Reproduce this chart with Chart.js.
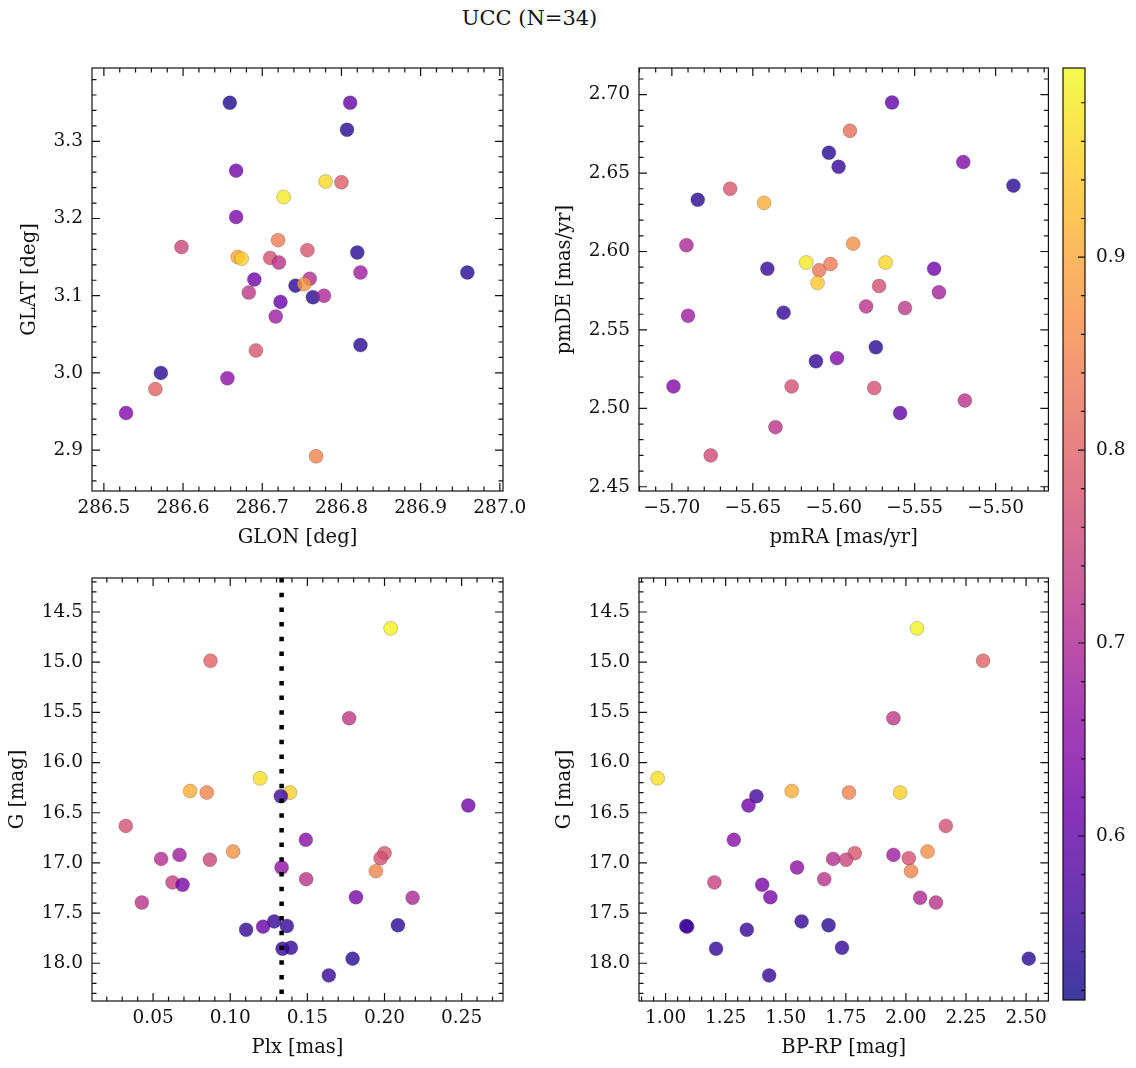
<!DOCTYPE html>
<html>
<head>
<meta charset="utf-8">
<title>UCC (N=34)</title>
<script src="https://cdn.jsdelivr.net/npm/chart.js@4.4.0/dist/chart.umd.min.js"></script>
<style>
  body { margin: 0; background: #fff; }
  #wrap { position: relative; width: 1136px; height: 1068px; font-family: "DejaVu Serif", serif; }
  canvas { position: absolute; }
  #title { position: absolute; left: 0; width: 1059px; top: 6px; text-align: center; font-size: 21px; color: #111; }
</style>
</head>
<body>
<div id="wrap">
  <div id="title">UCC (N=34)</div>
  <canvas id="p1"></canvas>
  <canvas id="p2"></canvas>
  <canvas id="p3"></canvas>
  <canvas id="p4"></canvas>
  <canvas id="cbar"></canvas>
</div>
<script>
// --- top left: galactic coordinates
const glon = [286.659, 286.667, 286.727, 286.667, 286.598, 286.720, 286.669, 286.674, 286.710, 286.721,
    286.690, 286.742, 286.683, 286.723, 286.717, 286.692, 286.572, 286.656, 286.565, 286.528,
    286.811, 286.807, 286.780, 286.800, 286.757, 286.820, 286.760, 286.753, 286.824, 286.959,
    286.764, 286.778, 286.824, 286.768];
const glat = [3.350, 3.262, 3.228, 3.202, 3.163, 3.172, 3.150, 3.148, 3.149, 3.143,
    3.121, 3.113, 3.104, 3.092, 3.073, 3.029, 3.000, 2.993, 2.979, 2.948,
    3.350, 3.315, 3.248, 3.247, 3.159, 3.156, 3.122, 3.115, 3.130, 3.130,
    3.098, 3.100, 3.036, 2.892];
const probPos = [0.53, 0.62, 0.98, 0.63, 0.75, 0.84, 0.90, 0.95, 0.77, 0.72,
    0.62, 0.54, 0.73, 0.61, 0.68, 0.78, 0.54, 0.66, 0.80, 0.64,
    0.60, 0.54, 0.96, 0.79, 0.78, 0.54, 0.71, 0.88, 0.68, 0.54,
    0.54, 0.70, 0.54, 0.85];

// --- top right: proper motions
const pmra = [-5.684, -5.664, -5.643, -5.691, -5.641, -5.617, -5.631, -5.690, -5.699, -5.626,
    -5.636, -5.676, -5.564, -5.590, -5.603, -5.597, -5.520, -5.489, -5.588, -5.609,
    -5.602, -5.568, -5.610, -5.538, -5.572, -5.535, -5.580, -5.556, -5.574, -5.611,
    -5.598, -5.575, -5.519, -5.559];
const pmde = [2.633, 2.640, 2.631, 2.604, 2.589, 2.593, 2.561, 2.559, 2.514, 2.514,
    2.488, 2.470, 2.695, 2.677, 2.663, 2.654, 2.657, 2.642, 2.605, 2.588,
    2.592, 2.593, 2.580, 2.589, 2.578, 2.574, 2.565, 2.564, 2.539, 2.530,
    2.532, 2.513, 2.505, 2.497];
const probPm = [0.54, 0.78, 0.91, 0.70, 0.55, 0.98, 0.55, 0.68, 0.64, 0.77,
    0.72, 0.76, 0.60, 0.82, 0.54, 0.55, 0.64, 0.54, 0.87, 0.83,
    0.84, 0.96, 0.94, 0.62, 0.77, 0.69, 0.72, 0.73, 0.54, 0.55,
    0.64, 0.77, 0.72, 0.60];

// --- bottom: parallax, magnitude, colour (same stars in both panels)
const plx = [0.2040, 0.0872, 0.1771, 0.1194, 0.0740, 0.0848, 0.1387, 0.1328, 0.2543, 0.0323,
    0.1490, 0.1019, 0.2000, 0.0671, 0.1975, 0.0552, 0.0868, 0.1333, 0.1944, 0.1492,
    0.0626, 0.0691, 0.1815, 0.2182, 0.0427, 0.1285, 0.2087, 0.1213, 0.1367, 0.1103,
    0.1393, 0.1339, 0.1793, 0.1639];
const gmag = [14.663, 14.986, 15.558, 16.157, 16.284, 16.299, 16.299, 16.336, 16.428, 16.631,
    16.770, 16.887, 16.903, 16.920, 16.953, 16.960, 16.968, 17.046, 17.082, 17.162,
    17.194, 17.218, 17.342, 17.347, 17.395, 17.583, 17.621, 17.635, 17.628, 17.666,
    17.845, 17.855, 17.954, 18.121];
const bprp = [2.046, 2.321, 1.948, 0.967, 1.525, 1.763, 1.976, 1.378, 1.345, 2.166,
    1.284, 2.090, 1.787, 1.948, 2.012, 1.697, 1.751, 1.547, 2.021, 1.660,
    1.203, 1.402, 1.436, 2.059, 2.125, 1.566, 1.678, 1.090, 1.086, 1.338,
    1.734, 1.210, 2.511, 1.431];
const probPhot = [0.99, 0.80, 0.73, 0.97, 0.91, 0.85, 0.95, 0.56, 0.62, 0.77,
    0.65, 0.87, 0.78, 0.68, 0.77, 0.71, 0.75, 0.66, 0.85, 0.72,
    0.74, 0.63, 0.63, 0.70, 0.72, 0.55, 0.54, 0.61, 0.55, 0.55,
    0.55, 0.55, 0.54, 0.55];
const plxLine = 0.1333;

// axis limits and ticks
const glonLim = [286.485, 287.004];
const glatLim = [2.847, 3.395];
const pmraLim = [-5.7203, -5.4674];
const pmdeLim = [2.4473, 2.717];
const plxLim = [0.0104, 0.2768];
const gLim = [14.161, 18.376];
const bprpLim = [0.8894, 2.5928];
const probLim = [0.515, 0.998];
const cbarTicks = [0.6, 0.7, 0.8, 0.9];

const plasmaStops = ["#0d0887", "#41049d", "#6a00a8", "#8f0da4", "#b12a90", "#cc4778",
    "#e16462", "#f2844b", "#fca636", "#fcce25", "#f0f921"];
const ALPHA = 0.8;
const FONT = "'DejaVu Serif', serif";
const INK = "#111";
const TICK_SIZE = 18.5;
const LABEL_SIZE = 19.5;

const hexToRgb = (h) => [1, 3, 5].map(i => parseInt(h.substr(i, 2), 16));

const plasmaAt = (t) => {
    t = Math.min(1, Math.max(0, t));
    const pos = t * (plasmaStops.length - 1);
    const i = Math.min(Math.floor(pos), plasmaStops.length - 2);
    const f = pos - i;
    const a = hexToRgb(plasmaStops[i]);
    const b = hexToRgb(plasmaStops[i + 1]);
    const c = a.map((v, k) => Math.round(v + (b[k] - v) * f));
    return `rgba(${c[0]},${c[1]},${c[2]},${ALPHA})`;
};
const colorFor = (p) => plasmaAt((p - probLim[0]) / (probLim[1] - probLim[0]));

const fmt = (d) => (v) => v.toFixed(d).replace("-", "\u2212");

// inward ticks on all sides + frame, like matplotlib's science style
const tickMarks = {
    id: "tickMarks",
    afterDraw(chart, args, opts) {
        const { ctx, chartArea: a, scales } = chart;
        ctx.save();
        ctx.strokeStyle = INK;
        ctx.lineWidth = 1.2;
        ctx.strokeRect(a.left, a.top, a.right - a.left, a.bottom - a.top);
        const drawAxis = (scale, minor, major, horizontal, sides) => {
            const start = Math.ceil(scale.min / minor - 1e-6);
            const end = Math.floor(scale.max / minor + 1e-6);
            ctx.beginPath();
            for (let k = start; k <= end; k++) {
                const v = k * minor;
                const isMajor = Math.abs(v / major - Math.round(v / major)) < 1e-6;
                const len = isMajor ? opts.major : opts.minor;
                const p = scale.getPixelForValue(v);
                if (horizontal) {
                    ctx.moveTo(p, a.bottom); ctx.lineTo(p, a.bottom - len);
                    ctx.moveTo(p, a.top); ctx.lineTo(p, a.top + len);
                } else {
                    if (sides.includes("left")) { ctx.moveTo(a.left, p); ctx.lineTo(a.left + len, p); }
                    if (sides.includes("right")) { ctx.moveTo(a.right, p); ctx.lineTo(a.right - len, p); }
                }
            }
            ctx.stroke();
        };
        if (opts.x) drawAxis(scales.x, opts.x[0], opts.x[1], true);
        if (opts.y) drawAxis(scales.y, opts.y[0], opts.y[1], false, opts.sides || ["left", "right"]);
        ctx.restore();
    }
};

const placeCanvas = (id, box) => {
    const cv = document.getElementById(id);
    cv.width = box.width;
    cv.height = box.height;
    cv.style.left = box.left + "px";
    cv.style.top = box.top + "px";
    return cv;
};

const makePanel = (id, box, xs, ys, datasets, ticks) => {
    const cv = placeCanvas(id, box);
    return new Chart(cv.getContext("2d"), {
        type: "scatter",
        data: { datasets },
        plugins: [tickMarks],
        options: {
            responsive: false,
            animation: false,
            devicePixelRatio: 1,
            layout: { padding: { left: 0, top: box.padTop, right: box.padRight, bottom: 0 } },
            plugins: { legend: { display: false }, tooltip: { enabled: false }, tickMarks: ticks },
            scales: {
                x: {
                    min: xs.lim[0], max: xs.lim[1],
                    grid: { display: false, drawTicks: false },
                    border: { display: false },
                    ticks: {
                        stepSize: xs.step, includeBounds: false, autoSkip: false, maxRotation: 0,
                        padding: 6, color: INK, font: { family: FONT, size: TICK_SIZE },
                        callback: fmt(xs.dec)
                    },
                    title: { display: true, text: xs.title, color: INK, font: { family: FONT, size: LABEL_SIZE }, padding: { top: 0, bottom: 8 } },
                    afterFit: (s) => { s.height = box.xh; s.paddingLeft = 0; s.paddingRight = 0; }
                },
                y: {
                    min: ys.lim[0], max: ys.lim[1], reverse: !!ys.reverse,
                    grid: { display: false, drawTicks: false },
                    border: { display: false },
                    ticks: {
                        stepSize: ys.step, includeBounds: false, autoSkip: false,
                        padding: 9, color: INK, font: { family: FONT, size: TICK_SIZE },
                        callback: fmt(ys.dec)
                    },
                    title: { display: true, text: ys.title, color: INK, font: { family: FONT, size: LABEL_SIZE }, padding: { top: ys.titlePad, bottom: 0 } },
                    afterFit: (s) => { s.width = box.yw; s.paddingTop = 0; s.paddingBottom = 0; }
                }
            }
        }
    });
};

const scatterSet = (xv, yv, probs) => ({
    data: xv.map((x, i) => ({ x, y: yv[i] })),
    pointRadius: 7,
    pointHoverRadius: 7,
    backgroundColor: probs.map(colorFor),
    borderColor: "rgba(60,60,60,0.45)",
    borderWidth: 0.6
});

makePanel("p1",
    { left: 0, top: 58, width: 540, height: 500, padTop: 10, padRight: 37, yw: 92, xh: 67 },
    { lim: glonLim, step: 0.1, dec: 1, title: "GLON [deg]" },
    { lim: glatLim, step: 0.1, dec: 1, title: "GLAT [deg]", titlePad: 18 },
    [scatterSet(glon, glat, probPos)],
    { x: [0.02, 0.1], y: [0.02, 0.1], major: 8, minor: 4.5 });

makePanel("p2",
    { left: 545, top: 58, width: 511, height: 500, padTop: 10, padRight: 5, yw: 94, xh: 67 },
    { lim: pmraLim, step: 0.05, dec: 2, title: "pmRA [mas/yr]" },
    { lim: pmdeLim, step: 0.05, dec: 2, title: "pmDE [mas/yr]", titlePad: 8 },
    [scatterSet(pmra, pmde, probPm)],
    { x: [0.01, 0.05], y: [0.01, 0.05], major: 8, minor: 4.5 });

makePanel("p3",
    { left: 0, top: 568, width: 540, height: 500, padTop: 10, padRight: 37, yw: 92, xh: 67 },
    { lim: plxLim, step: 0.05, dec: 2, title: "Plx [mas]" },
    { lim: gLim, step: 0.5, dec: 1, title: "G [mag]", titlePad: 6, reverse: true },
    [{
        data: [{ x: plxLine, y: gLim[0] }, { x: plxLine, y: gLim[1] }],
        showLine: true,
        borderColor: "#000",
        borderWidth: 4.5,
        borderDash: [4.5, 10.2],
        pointRadius: 0
    }, scatterSet(plx, gmag, probPhot)],
    { x: [0.01, 0.05], y: [0.1, 0.5], major: 8, minor: 4.5 });

makePanel("p4",
    { left: 545, top: 568, width: 511, height: 500, padTop: 10, padRight: 5, yw: 94, xh: 67 },
    { lim: bprpLim, step: 0.25, dec: 2, title: "BP-RP [mag]" },
    { lim: gLim, step: 0.5, dec: 1, title: "G [mag]", titlePad: 8, reverse: true },
    [scatterSet(bprp, gmag, probPhot)],
    { x: [0.05, 0.25], y: [0.1, 0.5], major: 8, minor: 4.5 });

// colorbar
const cbarGradient = {
    id: "cbarGradient",
    beforeDraw(chart) {
        const { ctx, chartArea: a, scales } = chart;
        const y = scales.y;
        const g = ctx.createLinearGradient(0, a.bottom, 0, a.top);
        for (let k = 0; k <= 40; k++) {
            const v = probLim[0] + (probLim[1] - probLim[0]) * k / 40;
            g.addColorStop((y.getPixelForValue(v) - a.bottom) / (a.top - a.bottom), colorFor(v));
        }
        ctx.save();
        ctx.fillStyle = g;
        ctx.fillRect(a.left, a.top, a.right - a.left, a.bottom - a.top);
        ctx.restore();
    }
};

const cbarCanvas = placeCanvas("cbar", { left: 1053, top: 58, width: 83, height: 1010 });
new Chart(cbarCanvas.getContext("2d"), {
    type: "scatter",
    data: { datasets: [] },
    plugins: [cbarGradient, tickMarks],
    options: {
        responsive: false,
        animation: false,
        devicePixelRatio: 1,
        layout: { padding: { left: 10, top: 10, right: 0, bottom: 68 } },
        plugins: {
            legend: { display: false }, tooltip: { enabled: false },
            tickMarks: { y: [0.02, 0.1], major: 7, minor: 4, sides: ["right"] }
        },
        scales: {
            x: { display: false, min: 0, max: 1 },
            y: {
                position: "right",
                min: probLim[0], max: probLim[1],
                grid: { display: false, drawTicks: false },
                border: { display: false },
                afterBuildTicks: (s) => { s.ticks = cbarTicks.map(v => ({ value: v })); },
                ticks: { padding: 11, color: INK, font: { family: FONT, size: TICK_SIZE }, callback: fmt(1) },
                afterFit: (s) => { s.width = 51; s.paddingTop = 0; s.paddingBottom = 0; }
            }
        }
    }
});
</script>
</body>
</html>
